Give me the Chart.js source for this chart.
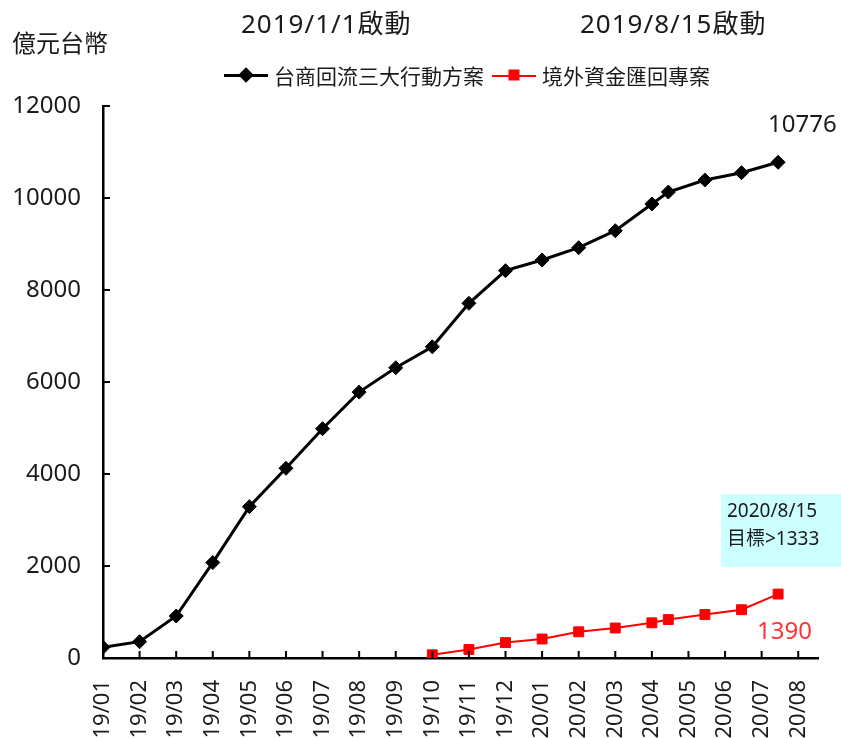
<!DOCTYPE html>
<html>
<head>
<meta charset="utf-8">
<script src="https://cdn.jsdelivr.net/npm/chart.js@4/dist/chart.umd.min.js"></script>
<style>
  body { margin: 0; background: #fff; }
  #wrap { position: relative; width: 841px; height: 738px; font-family: "Noto Sans", "Noto Sans CJK TC", sans-serif; color: #1a1a1a; }
  #wrap canvas { position: absolute; left: 0; top: 0; }
  .txt { position: absolute; white-space: nowrap; line-height: 1; }
  .legend { position: absolute; top: 60px; left: 224px; display: flex; align-items: center; font-size: 21px; }
  .sample { position: relative; width: 44px; height: 20px; margin-right: 6px; }
  .sample .ln { position: absolute; left: 0; right: 0; top: 9px; }
  .sample .mk { position: absolute; left: 50%; top: 50%; }
  #note { position: absolute; left: 721px; top: 494px; width: 120px; height: 73px; background: #ccffff; font-size: 19px; }
</style>
</head>
<body>
<div id="wrap">
  <canvas id="lineChart" width="841" height="738"></canvas>
  <div class="txt" style="left:12px;top:31px;font-size:24px;">億元台幣</div>
  <div class="txt" style="left:241px;top:10px;font-size:26px;letter-spacing:1px;">2019/1/1啟動</div>
  <div class="txt" style="left:580px;top:10px;font-size:26px;letter-spacing:1px;">2019/8/15啟動</div>
  <div class="legend">
    <div class="sample"><div class="ln" style="height:3px;background:#000;"></div><div class="mk" style="width:11px;height:11px;background:#000;transform:translate(-50%,-50%) rotate(45deg);"></div></div>
    <span id="lab1" style="margin-right:8px;"></span>
    <div class="sample"><div class="ln" style="height:2px;background:#ff0000;top:10px;"></div><div class="mk" style="width:11px;height:11px;background:#ff0000;transform:translate(-50%,-50%);"></div></div>
    <span id="lab2"></span>
  </div>
  <div class="txt" style="left:768px;top:111px;font-size:24px;">10776</div>
  <div class="txt" style="left:757px;top:618px;font-size:24px;color:#ff3333;">1390</div>
  <div id="note">
    <div class="txt" style="left:6px;top:7px;">2020/8/15</div>
    <div class="txt" style="left:6px;top:35px;">目標&gt;1333</div>
  </div>
</div>
<script>
  // Data
  const seriesNames = ['台商回流三大行動方案', '境外資金匯回專案'];
  const monthLabels = ['19/01', '19/02', '19/03', '19/04', '19/05', '19/06', '19/07', '19/08', '19/09', '19/10',
                       '19/11', '19/12', '20/01', '20/02', '20/03', '20/04', '20/05', '20/06', '20/07', '20/08'];
  // x positions in months since 19/01 (later points fall mid-month)
  const taishangX = [0, 1, 2, 3, 4, 5, 6, 7, 8, 9, 10, 11, 12, 13, 14, 15, 15.45, 16.45, 17.45, 18.45];
  const taishangValues = [232, 355, 913, 2075, 3290, 4125, 4985, 5780, 6310, 6765,
                          7711, 8420, 8652, 8920, 9289, 9870, 10130, 10391, 10550, 10776];
  const repatriationX = [9, 10, 11, 12, 13, 14, 15, 15.45, 16.45, 17.45, 18.45];
  const repatriationValues = [70, 185, 335, 413, 570, 652, 765, 835, 945, 1050, 1390];
  const yTicks = [0, 2000, 4000, 6000, 8000, 10000, 12000];

  document.getElementById('lab1').textContent = seriesNames[0];
  document.getElementById('lab2').textContent = seriesNames[1];

  function toPoints(xs, ys) {
    return xs.map((x, i) => ({ x: x, y: ys[i] }));
  }

  // Excel style tick marks pointing into the plot
  const insideTicks = {
    id: 'insideTicks',
    afterDraw(chart) {
      const ctx = chart.ctx;
      const area = chart.chartArea;
      const xs = chart.scales.x;
      const ys = chart.scales.y;
      ctx.save();
      ctx.strokeStyle = '#000';
      ctx.lineWidth = 2;
      ctx.beginPath();
      xs.ticks.forEach(t => {
        const px = xs.getPixelForValue(t.value);
        ctx.moveTo(px, area.bottom);
        ctx.lineTo(px, area.bottom - 7);
      });
      ys.ticks.forEach(t => {
        const py = ys.getPixelForValue(t.value);
        ctx.moveTo(area.left, py);
        ctx.lineTo(area.left + 7, py);
      });
      ctx.stroke();
      ctx.restore();
    }
  };

  const fontFamily = '"Noto Sans", "Noto Sans CJK TC", sans-serif';
  const line = document.getElementById('lineChart');
  const lineChart = new Chart(line, {
    type: 'line',
    data: {
      datasets: [{
        label: seriesNames[0],
        data: toPoints(taishangX, taishangValues),
        borderColor: '#000',
        backgroundColor: '#000',
        borderWidth: 3,
        pointStyle: 'rectRot',
        pointRadius: 7,
        pointBorderWidth: 1,
        tension: 0
      }, {
        label: seriesNames[1],
        data: toPoints(repatriationX, repatriationValues),
        borderColor: '#ff0000',
        backgroundColor: '#ff0000',
        borderWidth: 2,
        pointStyle: 'rect',
        pointRadius: 7,
        pointBorderWidth: 1,
        tension: 0
      }]
    },
    options: {
      responsive: false,
      animation: false,
      layout: { padding: { top: 106, right: 23, left: 0, bottom: 0 } },
      scales: {
        x: {
          type: 'linear',
          min: 0,
          max: 19.54,
          afterBuildTicks: scale => {
            scale.ticks = monthLabels.map((m, i) => ({ value: i }));
          },
          afterFit: scale => {
            scale.height = 80;
            scale.paddingLeft = 0;
            scale.paddingRight = 0;
          },
          grid: { display: true, drawOnChartArea: false, drawTicks: false },
          border: { color: '#000', width: 2.5 },
          ticks: {
            autoSkip: false,
            minRotation: 90,
            maxRotation: 90,
            padding: 22,
            color: '#1a1a1a',
            font: { family: fontFamily, size: 22 },
            callback: value => monthLabels[value] || ''
          }
        },
        y: {
          min: 0,
          max: 12000,
          afterBuildTicks: scale => {
            scale.ticks = yTicks.map(v => ({ value: v }));
          },
          afterFit: scale => {
            scale.width = 103;
            scale.paddingTop = 0;
            scale.paddingBottom = 0;
          },
          grid: { display: true, drawOnChartArea: false, drawTicks: false },
          border: { color: '#000', width: 2.5 },
          ticks: {
            padding: 22,
            color: '#1a1a1a',
            font: { family: fontFamily, size: 24 },
            callback: value => String(value)
          }
        }
      },
      plugins: {
        legend: { display: false },
        tooltip: { enabled: false }
      }
    },
    plugins: [insideTicks]
  });
</script>
</body>
</html>
